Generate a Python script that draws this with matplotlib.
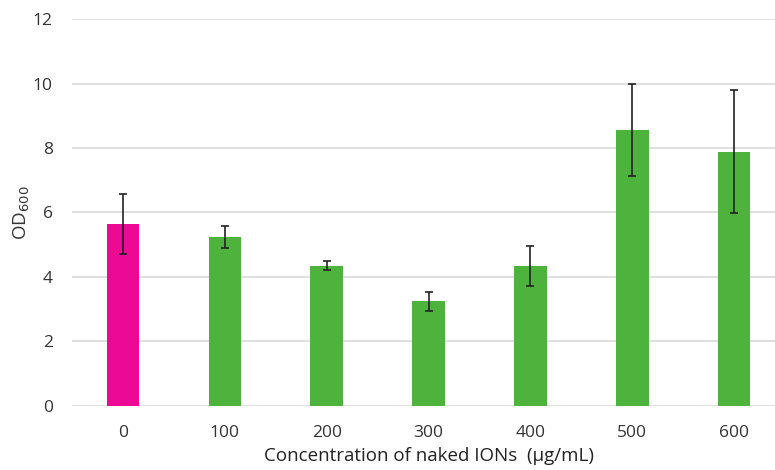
import matplotlib.pyplot as plt

# Optical density after exposure to naked IONs
concentrations = ["0", "100", "200", "300", "400", "500", "600"]
od600 = [5.64, 5.24, 4.35, 3.24, 4.35, 8.56, 7.89]
err_low = [0.92, 0.35, 0.13, 0.29, 0.62, 1.44, 1.91]
err_high = [0.93, 0.35, 0.13, 0.30, 0.62, 1.44, 1.90]

colors = ["#EC0A94"] + ["#4DB33D"] * (len(concentrations) - 1)

plt.rcParams["font.family"] = ["Open Sans", "DejaVu Sans"]

fig = plt.figure(figsize=(7.75, 4.7), dpi=100)
ax = fig.add_axes([0.093, 0.137, 0.92, 0.822])

x = range(len(concentrations))
ax.bar(x, od600, width=0.32, color=colors, zorder=2,
       yerr=[err_low, err_high], capsize=3,
       error_kw=dict(ecolor="#222222", elinewidth=1.2, capthick=1.2))

ax.set_ylim(0, 12)
ax.set_xlim(-0.5, len(concentrations) - 0.5)
ax.set_yticks(range(0, 13, 2))
ax.set_xticks(list(x))
ax.set_xticklabels(concentrations)
ax.yaxis.grid(True, color="#D9D9D9", linewidth=1.2, zorder=0)
ax.set_axisbelow(True)
for side in ["top", "right", "left", "bottom"]:
    ax.spines[side].set_visible(False)
ax.tick_params(axis="both", length=0, labelsize=12.5, colors="#333333")
ax.tick_params(axis="y", pad=14)
ax.tick_params(axis="x", pad=14)

ax.set_ylabel("OD$_{600}$", fontsize=13.5, color="#333333")
ax.yaxis.set_label_coords(-0.056, 0.5)
ax.set_xlabel("Concentration of naked IONs  (\u00b5g/mL)", fontsize=13.5,
              color="#222222", labelpad=4)

fig.savefig("out.png", dpi=100)
